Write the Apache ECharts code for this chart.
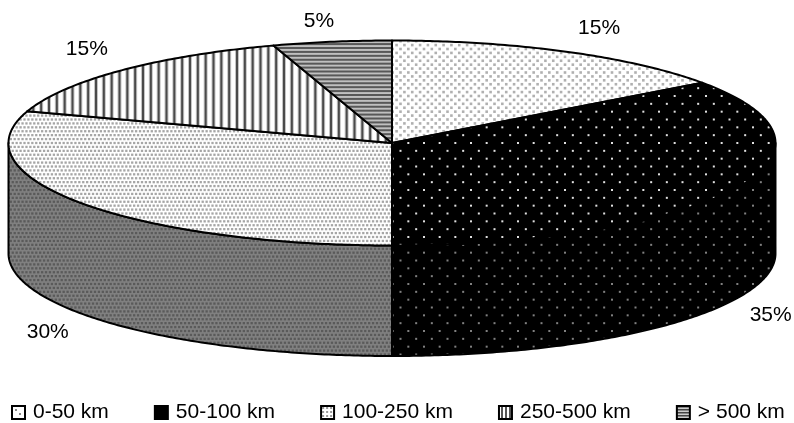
<!DOCTYPE html>
<html><head><meta charset="utf-8">
<style>html,body{margin:0;padding:0;background:#fff}#c{width:794px;height:423px}</style>
<script src="https://cdn.jsdelivr.net/npm/echarts@6/dist/echarts.min.js"></script>
</head><body><div id="c"></div>
<script>
var categories = ['0-50 km','50-100 km','100-250 km','250-500 km','> 500 km'];
var shares = [15,35,30,15,5];

var CX=392, CY=143, RX=383.5, RY=102.5, DEPTH=110.5;
var labelOffset=[[33,-23],[37,126],[-34,129],[-34,-21],[-13,-21]];
var FONT='Arial, "Liberation Sans", sans-serif';

function tile(bg,draw,size){var c=document.createElement('canvas');c.width=c.height=size||47;var g=c.getContext('2d');g.fillStyle=bg;g.fillRect(0,0,c.width,c.height);draw(g);return {image:c,repeat:'repeat'};}
function dots(g,colr,r,px,py){var nx=Math.round(47/px),ny=Math.round(47/py);g.fillStyle=colr;
 for(var j=-1;j<=ny;j++)for(var i=-1;i<=nx;i++){var x=(i+(j&1?0.5:0))*47/nx+1,y=j*47/ny+2;g.fillRect(x-r,y-r,2*r,2*r);}}
function vstripes(g){for(var i=0;i<6;i++){var x=i*47/6;g.fillStyle='#c4c4c4';g.fillRect(x,0,4,47);g.fillStyle='#4a4a4a';g.fillRect(x+1,0,2,47);}}
function hstripes(g){for(var i=0;i<12;i++){var y=i*47/12;g.fillStyle='#585858';g.fillRect(0,y,47,2);}}
var topFill=[
 tile('#fff',function(g){dots(g,'#b0b0b0',1.3,7.83,3.92);}),
 tile('#000',function(g){dots(g,'#e0e0e0',1,15.67,7.83);}),
 tile('#fff',function(g){dots(g,'#a6a6a6',1.15,3.92,3.92);}),
 tile('#fff',vstripes),
 tile('#c0c0c0',hstripes)
];
var sideFill=[
 null,
 tile('#000',function(g){dots(g,'#808080',1,15.67,7.83);}),
 tile('#808080',function(g){dots(g,'#5a5a5a',1.15,3.92,3.92);}),
 null,null
];
var legendFill=[
 tile('#fff',function(g){g.fillStyle='#888';g.fillRect(3,3,2,2);g.fillRect(7,7,2,2);},11),
 tile('#000',function(){},11),
 tile('#fff',function(g){g.fillStyle='#999';for(var i=0;i<11;i+=4)for(var j=0;j<11;j+=4)g.fillRect(i+1,j+1,2,2);},12),
 tile('#fff',function(g){g.fillStyle='#555';for(var i=0;i<12;i+=4)g.fillRect(i+2,0,2,12);},12),
 tile('#ccc',function(g){g.fillStyle='#444';for(var j=0;j<12;j+=3)g.fillRect(0,j,12,1.5);},12)
];

var total=shares.reduce(function(a,b){return a+b;},0);
function px(a){return CX+RX*Math.sin(a);}
function py(a){return CY-RY*Math.cos(a);}
function arc(a0,a1,dy){var n=Math.max(2,Math.ceil((a1-a0)*90)),pts=[];for(var i=0;i<=n;i++){var a=a0+(a1-a0)*i/n;pts.push([px(a),py(a)+dy]);}return pts;}

function makeRender(idx){return function(params,api){
  var before=shares.slice(0,idx).reduce(function(a,b){return a+b;},0);
  var a0=before/total*2*Math.PI, a1=a0+api.value(0)/total*2*Math.PI, mid=(a0+a1)/2;
  var kids=[];
  var w0=Math.max(a0,Math.PI/2), w1=Math.min(a1,1.5*Math.PI);
  var stroke={stroke:'#000',lineWidth:2,lineJoin:'round'};
  if(w1>w0){
    var topEdge=arc(w0,w1,0), botEdge=arc(w0,w1,DEPTH).reverse();
    kids.push({type:'polygon',shape:{points:topEdge.concat(botEdge)},style:Object.assign({fill:sideFill[idx]},stroke)});
  }
  kids.push({type:'polygon',shape:{points:[[CX,CY]].concat(arc(a0,a1,0))},style:Object.assign({fill:topFill[idx]},stroke)});
  var off=labelOffset[idx];
  kids.push({type:'text',style:{text:api.value(0)+'%',x:px(mid)+off[0],y:py(mid)+off[1],align:'center',verticalAlign:'middle',font:'21px '+FONT,fill:'#000'}});
  return {type:'group',children:kids};
};}

var chart=echarts.init(document.getElementById('c'),null,{renderer:'canvas'});
chart.setOption({
  animation:false,
  legend:{left:11,top:402,itemGap:45,itemWidth:13,itemHeight:13,icon:'rect',padding:0,
    textStyle:{fontSize:21,fontFamily:FONT,color:'#000',padding:[0,0,0,3]},
    data:categories.map(function(n,i){return {name:n,itemStyle:{color:legendFill[i],borderColor:'#000',borderWidth:2}};})},
  series:categories.map(function(n,i){return {type:'custom',name:n,coordinateSystem:'none',silent:true,clip:false,
    renderItem:makeRender(i),data:[shares[i]],encode:{value:0}};})
});
</script></body></html>
